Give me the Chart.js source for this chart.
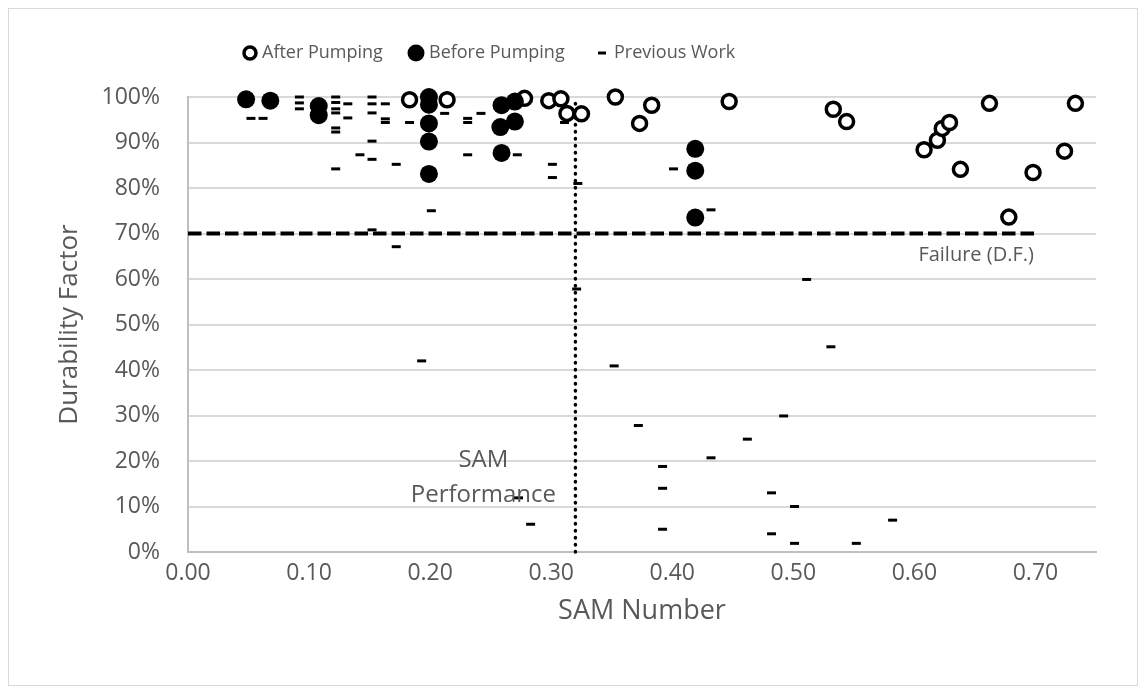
<!DOCTYPE html>
<html>
<head>
<meta charset="utf-8">
<title>Durability Factor vs SAM Number</title>
<script src="https://cdn.jsdelivr.net/npm/chart.js@4/dist/chart.umd.min.js"></script>
<style>
  html, body { margin: 0; padding: 0; background: #fff; }
  canvas { display: block; }
</style>
</head>
<body>
<canvas id="chart" width="1146" height="694"></canvas>
<script>
// SAM number (x) and durability factor in % (y)
const afterX = [0.183, 0.214, 0.278, 0.298, 0.308, 0.313, 0.325, 0.353, 0.373, 0.383, 0.447,
                0.533, 0.544, 0.608, 0.619, 0.623, 0.629, 0.638, 0.662, 0.678, 0.698, 0.724, 0.733];
const afterY = [99.4, 99.4, 99.7, 99.2, 99.6, 96.4, 96.3, 100, 94.2, 98.2, 99.0,
                97.3, 94.6, 88.4, 90.5, 93.1, 94.4, 84.1, 98.6, 73.6, 83.4, 88.1, 98.6];

const beforeX = [0.048, 0.068, 0.108, 0.108, 0.199, 0.199, 0.199, 0.199, 0.199,
                 0.259, 0.270, 0.258, 0.270, 0.259, 0.419, 0.419, 0.419];
const beforeY = [99.5, 99.2, 98.0, 96.0, 100, 98.3, 94.2, 90.2, 83.1,
                 98.2, 99.0, 93.4, 94.6, 87.7, 88.6, 83.8, 73.5];

const prevX = [0.052, 0.062, 0.092, 0.092, 0.092,
               0.122, 0.122, 0.122, 0.122, 0.122, 0.122, 0.122, 0.132, 0.132, 0.142,
               0.152, 0.152, 0.152, 0.152, 0.152, 0.152, 0.163, 0.163, 0.163,
               0.172, 0.172, 0.183, 0.193, 0.201, 0.212, 0.231, 0.231, 0.231, 0.242,
               0.272, 0.273, 0.283, 0.301, 0.301, 0.311, 0.322, 0.321,
               0.352, 0.372, 0.392, 0.392, 0.392, 0.401, 0.432, 0.432, 0.462,
               0.482, 0.482, 0.492, 0.501, 0.501, 0.511, 0.531, 0.552, 0.582];
const prevY = [95.3, 95.3, 100, 98.7, 97.4,
               100, 98.8, 97.4, 96.5, 93.2, 92.3, 84.2, 98.5, 95.4, 87.3,
               100, 98.5, 96.5, 90.3, 86.3, 70.8, 98.5, 95.2, 94.4,
               85.2, 67.1, 94.4, 42.0, 75.0, 96.4, 95.3, 94.4, 87.3, 96.4,
               87.3, 11.9, 6.1, 85.2, 82.3, 94.4, 81.0, 57.8,
               40.9, 27.8, 18.8, 14.0, 5.0, 84.2, 75.2, 20.7, 24.8,
               13.0, 4.0, 29.9, 10.0, 1.9, 59.9, 45.1, 1.9, 7.0];

// reference lines
const failureX = [0, 0.70];
const failureY = [70, 70];
const samLimitX = [0.32, 0.32];
const samLimitY = [0, 99];

const seriesNames = ['After Pumping', 'Before Pumping', 'Previous Work'];

const FONT = 'Open Sans';
const TEXT = '#595959';

const toPoints = (xs, ys) => xs.map((x, i) => ({ x, y: ys[i] }));

const decorations = {
    id: 'decorations',
    beforeDraw(chart) {
        const ctx = chart.ctx;
        ctx.save();
        ctx.fillStyle = '#fff';
        ctx.fillRect(0, 0, chart.width, chart.height);
        ctx.strokeStyle = '#d9d9d9';
        ctx.lineWidth = 1;
        ctx.strokeRect(8.5, 8.5, chart.width - 17, chart.height - 17);
        ctx.restore();
    },
    afterDraw(chart) {
        const { ctx, scales: { x, y } } = chart;
        ctx.save();
        ctx.fillStyle = TEXT;
        ctx.textBaseline = 'middle';
        ctx.textAlign = 'center';

        ctx.font = `20px "${FONT}"`;
        ctx.fillText('Failure (D.F.)', x.getPixelForValue(0.651), y.getPixelForValue(65.3));
        ctx.font = `24px "${FONT}"`;
        ctx.fillText('SAM', x.getPixelForValue(0.244), y.getPixelForValue(20.2));
        ctx.fillText('Performance', x.getPixelForValue(0.244), y.getPixelForValue(12.5));

        // legend
        const ly = 53;
        ctx.textAlign = 'left';
        ctx.font = `18px "${FONT}"`;
        ctx.strokeStyle = '#000';
        ctx.fillStyle = '#000';

        ctx.lineWidth = 3.5;
        ctx.beginPath();
        ctx.arc(250, ly, 6, 0, Math.PI * 2);
        ctx.stroke();

        ctx.beginPath();
        ctx.arc(416, ly, 8.5, 0, Math.PI * 2);
        ctx.fill();

        ctx.lineWidth = 3;
        ctx.beginPath();
        ctx.moveTo(598, ly);
        ctx.lineTo(606, ly);
        ctx.stroke();

        ctx.fillStyle = TEXT;
        ctx.fillText(seriesNames[0], 262, ly);
        ctx.fillText(seriesNames[1], 429, ly);
        ctx.fillText(seriesNames[2], 614, ly);
        ctx.restore();
    }
};

new Chart(document.getElementById('chart').getContext('2d'), {
    type: 'scatter',
    data: {
        datasets: [
            {
                label: seriesNames[0],
                data: toPoints(afterX, afterY),
                pointStyle: 'circle',
                pointRadius: 7,
                borderWidth: 3.5,
                backgroundColor: '#fff',
                borderColor: '#000',
                clip: false,
                order: 3
            },
            {
                label: seriesNames[1],
                data: toPoints(beforeX, beforeY),
                pointStyle: 'circle',
                pointRadius: 9,
                borderWidth: 0,
                backgroundColor: '#000',
                borderColor: '#000',
                clip: false,
                order: 2
            },
            {
                label: seriesNames[2],
                data: toPoints(prevX, prevY),
                pointStyle: 'line',
                pointRadius: 4.5,
                borderWidth: 3,
                borderColor: '#000',
                backgroundColor: '#000',
                clip: false,
                order: 4
            },
            {
                label: 'Failure (D.F.)',
                data: toPoints(failureX, failureY),
                showLine: true,
                pointRadius: 0,
                borderColor: '#000',
                borderWidth: 4,
                borderDash: [13.5, 5],
                order: 1
            },
            {
                label: 'SAM Performance',
                data: toPoints(samLimitX, samLimitY),
                showLine: true,
                pointRadius: 0,
                borderColor: '#000',
                borderWidth: 3.5,
                borderCapStyle: 'round',
                borderDash: [0.5, 6.5],
                clip: false,
                order: 0
            }
        ]
    },
    options: {
        responsive: false,
        animation: false,
        layout: { padding: { top: 97, right: 50, bottom: 0, left: 0 } },
        scales: {
            x: {
                type: 'linear',
                min: 0,
                max: 0.75,
                grid: { display: false, drawTicks: false },
                border: { display: true, color: '#bfbfbf', width: 2 },
                ticks: {
                    stepSize: 0.1,
                    includeBounds: false,
                    autoSkip: false,
                    maxRotation: 0,
                    padding: 8,
                    color: TEXT,
                    font: { family: FONT, size: 23 },
                    callback: v => Number(v).toFixed(2)
                },
                title: {
                    display: true,
                    text: 'SAM Number',
                    color: TEXT,
                    font: { family: FONT, size: 27 },
                    padding: { top: 0, bottom: 66 }
                },
                afterFit(scale) { scale.height = 142; }
            },
            y: {
                min: 0,
                max: 100,
                grid: { color: '#d9d9d9', lineWidth: 2, drawTicks: false },
                border: { color: '#bfbfbf', width: 2 },
                ticks: {
                    stepSize: 10,
                    padding: 28,
                    color: TEXT,
                    font: { family: FONT, size: 23 },
                    callback: v => v + '%'
                },
                title: {
                    display: true,
                    text: 'Durability Factor',
                    color: TEXT,
                    font: { family: FONT, size: 26 },
                    padding: { top: 54, bottom: 0 }
                },
                afterFit(scale) { scale.width = 188; }
            }
        },
        plugins: {
            legend: { display: false },
            tooltip: { enabled: false }
        }
    },
    plugins: [decorations]
});
</script>
</body>
</html>
